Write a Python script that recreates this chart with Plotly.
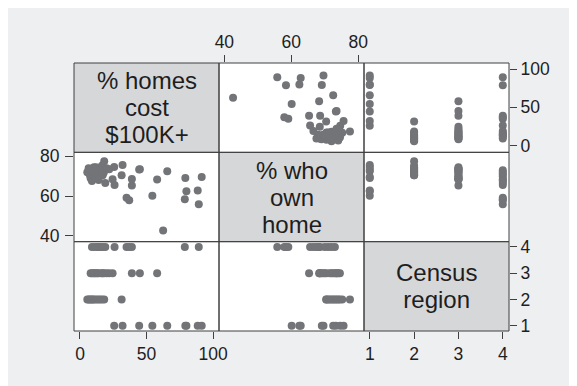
import plotly.graph_objects as go

# ---- data ----
# % homes cost $100K+, % who own home, Census region (None = no region, e.g. DC)
homes = [25.7, 32.0, 44.5, 54.4, 65.6, 79.2, 80.0, 88.5, 91.5,
         31.3, 18.2, 5.5, 6.5, 7.5, 8.5, 9.5, 10.5, 12.0, 13.5, 15.0, 16.5,
         58.0, 45.0, 39.0, 8.0, 9.0, 10.0, 11.0, 12.0, 13.0, 14.0, 16.0, 17.0, 18.0, 20.0, 22.0, 24.5,
         89.3, 78.8, 35.0, 37.0, 39.0, 26.0, 19.0, 17.0, 15.0, 14.0, 13.0, 11.0, 9.0,
         62.5]
own = [74.6, 75.6, 73.3, 60.1, 72.5, 69.1, 62.4, 62.8, 69.6,
       70.4, 77.5, 72.0, 74.0, 70.5, 73.0, 71.5, 74.5, 72.5, 71.0, 73.5, 75.2,
       68.3, 73.5, 65.3, 69.0, 68.5, 72.5, 70.0, 74.5, 71.5, 69.5, 73.0, 70.5, 72.0, 74.0, 73.5, 68.5,
       55.8, 58.4, 59.1, 57.9, 68.6, 65.6, 66.6, 71.0, 73.0, 68.0, 70.0, 72.0, 67.5,
       42.6]
region = [1] * 9 + [2] * 12 + [3] * 16 + [4] * 13 + [None]

var_labels = [["% homes", "cost", "$100K+"], ["% who", "own", "home"], ["Census", "region"]]
tick_vals = [[0, 50, 100], [40, 60, 80], [1, 2, 3, 4]]

# ---- styling ----
BG = "#eeeff1"
DIAG = "#d6d7d9"
MARK = "#737478"
LINE = "#404040"
TXT = "#1e1e1e"
FONT = "Liberation Sans, Arial, Helvetica, sans-serif"

# the page adds an 8px body margin, so the figure itself is 8px smaller
W, H = 569, 378
L, R, T, B = 66, 68, 55, 55

data = [homes, own, region]
x_ranges = [[-4.5, 104.5], [38.4, 81.7], [0.87, 4.14]]
y_ranges = [[-9, 108], [37, 82], [0.8, 4.2]]

fig = go.Figure()
layout = dict(
    width=W, height=H, autosize=False,
    margin=dict(l=L, r=R, t=T, b=B, pad=0),
    paper_bgcolor=BG, plot_bgcolor="rgba(0,0,0,0)",
    showlegend=False,
    font=dict(family=FONT, size=17, color=TXT),
)

for r in range(3):
    for c in range(3):
        k = r * 3 + c + 1
        xa = "x" if k == 1 else f"x{k}"
        ya = "y" if k == 1 else f"y{k}"
        if r != c:
            fig.add_trace(go.Scatter(
                x=data[c], y=data[r], mode="markers",
                marker=dict(size=8, color=MARK, line=dict(width=0)),
                xaxis=xa, yaxis=ya, hoverinfo="skip"))
        else:
            fig.add_trace(go.Scatter(x=[None], y=[None], mode="markers",
                                     xaxis=xa, yaxis=ya, hoverinfo="skip"))
        xd = dict(domain=[c / 3, (c + 1) / 3], range=x_ranges[c], anchor=ya,
                  showgrid=False, zeroline=False, showline=False,
                  showticklabels=False, ticks="")
        yd = dict(domain=[(2 - r) / 3, (3 - r) / 3], range=y_ranges[r], anchor=xa,
                  showgrid=False, zeroline=False, showline=False,
                  showticklabels=False, ticks="")
        tick_common = dict(showticklabels=True, ticks="outside", ticklen=7,
                           tickwidth=1, tickcolor=LINE,
                           tickfont=dict(family=FONT, size=17.5, color=TXT))
        if (r, c) in [(2, 0), (2, 2)]:
            xd.update(tick_common, tickvals=tick_vals[c], side="bottom")
        if (r, c) == (0, 1):
            xd.update(tick_common, tickvals=tick_vals[c], side="top")
        if (r, c) in [(0, 2), (2, 2)]:
            yd.update(tick_common, tickvals=tick_vals[r], side="right")
        if (r, c) == (1, 0):
            yd.update(tick_common, tickvals=tick_vals[r], side="left",
                      ticklen=8, ticklabelstandoff=2)
        layout["xaxis" if k == 1 else f"xaxis{k}"] = xd
        layout["yaxis" if k == 1 else f"yaxis{k}"] = yd

shapes = []
shapes.append(dict(type="rect", xref="paper", yref="paper", x0=0, x1=1, y0=0, y1=1,
                   fillcolor="white", line=dict(width=0), layer="below"))
for i in range(3):
    shapes.append(dict(type="rect", xref="paper", yref="paper",
                       x0=i / 3, x1=(i + 1) / 3, y0=(2 - i) / 3, y1=(3 - i) / 3,
                       fillcolor=DIAG, line=dict(width=0), layer="below"))
for r in range(3):
    for c in range(3):
        shapes.append(dict(type="rect", xref="paper", yref="paper",
                           x0=c / 3, x1=(c + 1) / 3, y0=(2 - r) / 3, y1=(3 - r) / 3,
                           line=dict(color=LINE, width=1), fillcolor="rgba(0,0,0,0)",
                           layer="above"))
layout["shapes"] = shapes

# diagonal labels: base size sets line spacing, inner spans set glyph size
ann = []
for i in range(3):
    txt = "<br>".join(f"<span style='font-size:24px'>{t}</span>" for t in var_labels[i])
    ann.append(dict(text=txt, xref="paper", yref="paper",
                    x=(i + 0.5) / 3, y=(2.5 - i) / 3, xanchor="center", yanchor="middle",
                    showarrow=False, font=dict(family=FONT, size=20.8, color=TXT)))
layout["annotations"] = ann

fig.update_layout(**layout)
fig.write_html("out.html")
